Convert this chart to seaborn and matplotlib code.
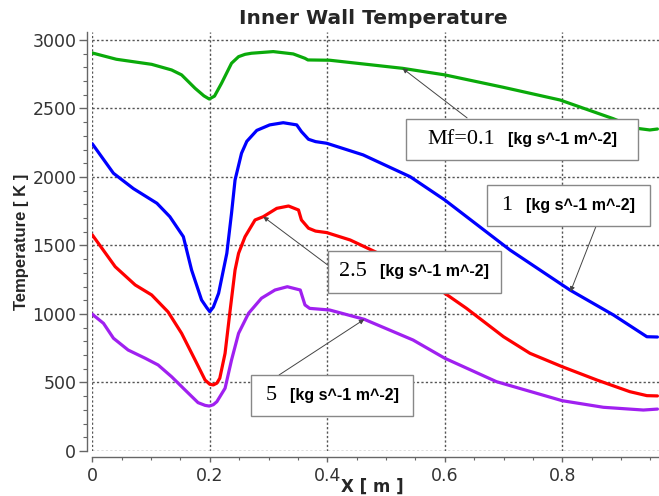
import matplotlib
matplotlib.use("Agg")
import matplotlib.pyplot as plt
import seaborn as sns
import pandas as pd
import numpy as np
from matplotlib.offsetbox import AnnotationBbox, HPacker, TextArea, DrawingArea
from matplotlib.ticker import MultipleLocator

# ---------------- data ----------------
x_green = [0, 0.041, 0.101, 0.135, 0.152, 0.175, 0.19, 0.199, 0.208, 0.22, 0.237, 0.249, 0.26,
           0.271, 0.308, 0.342, 0.362, 0.367, 0.404, 0.528, 0.6, 0.699, 0.796, 0.887, 0.927,
           0.949, 0.962]
t_green = [2905, 2859, 2822, 2781, 2745, 2647, 2592, 2569, 2590, 2684, 2830, 2878, 2895,
           2903, 2915, 2898, 2866, 2854, 2852, 2793, 2745, 2655, 2562, 2425, 2355,
           2343, 2350]

x_blue = [0, 0.036, 0.07, 0.11, 0.132, 0.155, 0.169, 0.186, 0.195, 0.2, 0.206, 0.215, 0.229,
          0.237, 0.243, 0.254, 0.263, 0.28, 0.302, 0.325, 0.348, 0.356, 0.368, 0.38, 0.399,
          0.461, 0.541, 0.6, 0.711, 0.813, 0.887, 0.944, 0.962]
t_blue = [2242, 2027, 1915, 1808, 1710, 1564, 1321, 1102, 1045, 1017, 1050, 1151, 1443,
          1735, 1978, 2173, 2260, 2340, 2380, 2396, 2380, 2331, 2275, 2258, 2246,
          2161, 2002, 1832, 1467, 1175, 993, 834, 832]

x_red = [0, 0.013, 0.039, 0.073, 0.101, 0.129, 0.152, 0.175, 0.192, 0.2, 0.206, 0.212, 0.217,
         0.226, 0.234, 0.243, 0.249, 0.26, 0.277, 0.291, 0.314, 0.334, 0.351, 0.356, 0.368,
         0.38, 0.399, 0.439, 0.487, 0.54, 0.592, 0.637, 0.7, 0.745, 0.8, 0.859, 0.915,
         0.944, 0.962]
t_red = [1577, 1500, 1345, 1212, 1139, 1015, 859, 664, 518, 487, 482, 495, 531,
         713, 1005, 1321, 1443, 1564, 1686, 1710, 1771, 1788, 1759, 1686, 1626,
         1605, 1594, 1540, 1443, 1310, 1175, 1041, 834, 713, 615, 518, 433,
         404, 402]

x_purple = [0, 0.019, 0.036, 0.061, 0.09, 0.112, 0.135, 0.158, 0.18, 0.192, 0.199, 0.206,
            0.212, 0.226, 0.237, 0.249, 0.266, 0.288, 0.311, 0.332, 0.354, 0.362, 0.37,
            0.404, 0.463, 0.546, 0.6, 0.688, 0.8, 0.87, 0.938, 0.962]
t_purple = [998, 932, 823, 737, 677, 628, 542, 445, 353, 333, 328, 338,
            360, 458, 664, 859, 1005, 1115, 1175, 1199, 1175, 1066, 1041,
            1029, 961, 810, 677, 506, 367, 319, 299, 306]

series_names = ["0.1", "1", "2.5", "5"]
series_colors = ["#0aaa0a", "#0000ff", "#ff0000", "#a020f0"]
unit_label = "[kg s^-1 m^-2]"
label_numbers = ["Mf=0.1", "1", "2.5", "5"]

title_text = "Inner Wall Temperature"
xlabel_text = "X [ m ]"
ylabel_text = "Temperature [ K ]"

# --------------- dataframe ---------------
frames = []
for name, xs, ts in zip(series_names,
                        [x_green, x_blue, x_red, x_purple],
                        [t_green, t_blue, t_red, t_purple]):
    frames.append(pd.DataFrame({"X": xs, "T": ts, "Mf": name}))
df = pd.concat(frames, ignore_index=True)

# --------------- figure ---------------
sns.set_style("white")
plt.rcParams["font.family"] = ["DejaVu Sans"]

fig = plt.figure(figsize=(6.59, 4.96), dpi=100)
ax = fig.add_axes([92.3 / 659, 45 / 496, (658.5 - 92.3) / 659, (451 - 32) / 496])

sns.lineplot(data=df, x="X", y="T", hue="Mf", hue_order=series_names,
             palette=dict(zip(series_names, series_colors)),
             sort=False, estimator=None, linewidth=2.3, legend=False, ax=ax, zorder=3,
             solid_joinstyle="round", solid_capstyle="round")

ax.set_xlim(0, 0.9638)
ax.set_ylim(0, 3058)
ax.set_xticks([0, 0.2, 0.4, 0.6, 0.8])
ax.set_xticklabels(["0", "0.2", "0.4", "0.6", "0.8"])
ax.set_yticks([0, 500, 1000, 1500, 2000, 2500, 3000])
ax.xaxis.set_minor_locator(MultipleLocator(0.05))
ax.yaxis.set_minor_locator(MultipleLocator(100))

ax.grid(True, which="major", linestyle=(0, (1.6, 1.6)), color="#555555", linewidth=1.0, zorder=1)
ax.set_axisbelow(True)

for side in ["top", "right"]:
    ax.spines[side].set_visible(False)
for side in ["left", "bottom"]:
    ax.spines[side].set_color("#666666")
    ax.spines[side].set_linewidth(1.0)
    ax.spines[side].set_position(("outward", 4))

ax.tick_params(axis="y", which="major", direction="out", length=5.5, width=1, color="#666666",
               labelsize=12.5, labelcolor="#333333", pad=2, left=True)
ax.tick_params(axis="y", which="minor", direction="out", length=3, width=0.8, color="#666666", left=True)
ax.tick_params(axis="x", which="major", direction="out", length=3.5, width=1, color="#666666",
               labelsize=12.5, labelcolor="#333333", pad=4, bottom=True)
ax.tick_params(axis="x", which="minor", direction="out", length=2.2, width=0.8, color="#666666", bottom=True)

ax.set_xlabel("")
ax.set_ylabel("")

fig.text(373.5 / 659, 1 - 19 / 496, title_text, ha="center", va="center",
         fontsize=14.5, fontweight="bold", family="DejaVu Sans")
fig.text(372 / 659, 1 - 487 / 496, xlabel_text, ha="center", va="center",
         fontsize=12, fontweight="bold", family="DejaVu Sans")
fig.text(22 / 659, 1 - 242 / 496, ylabel_text, ha="center", va="center", rotation=90,
         fontsize=12, fontweight="bold", family="Liberation Sans")

# --------------- annotation boxes ---------------
box_centers = [(0.732, 2274), (0.810, 1790), (0.548, 1307), (0.408, 405)]
arrow_tips = [(0.528, 2793), (0.814, 1163), (0.291, 1710), (0.463, 961)]
arrow_starts = [(0.638, 2431), (0.857, 1635), (0.403, 1350), (0.318, 555)]
side_space = [7.1, 2.6, 0.1, 2.2]

for num, center, tip, start, sp in zip(label_numbers, box_centers, arrow_tips,
                                        arrow_starts, side_space):
    ax.annotate("", xy=tip, xytext=start,
                arrowprops=dict(arrowstyle="-|>", color="#444444", lw=0.7,
                                mutation_scale=7, shrinkA=0, shrinkB=0),
                zorder=5)
    t1 = TextArea(num, textprops=dict(family="Liberation Serif", size=16, color="black"))
    t2 = TextArea(unit_label, textprops=dict(family="Liberation Sans", size=11.5,
                                             fontweight="bold", color="black"))
    inner = HPacker(children=[t1, t2], align="baseline", pad=0, sep=9.5)
    sp1 = DrawingArea(sp, 1)
    sp2 = DrawingArea(sp, 1)
    pack = HPacker(children=[sp1, inner, sp2], align="center", pad=0, sep=0)
    ab = AnnotationBbox(pack, center, xycoords="data", box_alignment=(0.5, 0.5),
                        frameon=True,
                        bboxprops=dict(boxstyle="square,pad=0.8", facecolor="white",
                                       edgecolor="#888888", linewidth=1.0),
                        zorder=6)
    ax.add_artist(ab)

fig.savefig("out.png", dpi=100)
